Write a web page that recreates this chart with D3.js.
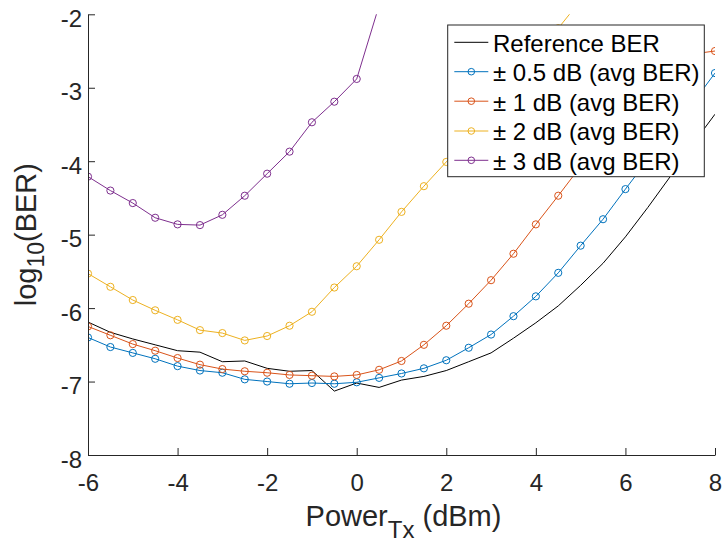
<!DOCTYPE html>
<html>
<head>
<meta charset="utf-8">
<script src="https://cdn.jsdelivr.net/npm/d3@7"></script>
<style>
  html, body { margin: 0; padding: 0; background: #fff; }
  svg { display: block; font-family: "Liberation Sans", Arial, Helvetica, sans-serif; }
</style>
</head>
<body>
<svg id="chart" width="723" height="542"></svg>
<script>
// ---------- data ----------
const powerTx = [-6,-5.5,-5,-4.5,-4,-3.5,-3,-2.5,-2,-1.5,-1,-0.5,0,0.5,1,1.5,2,2.5,3,3.5,4,4.5,5,5.5,6,6.5,7,7.5,8];

const refBER = [-6.19,-6.33,-6.42,-6.50,-6.58,-6.60,-6.73,-6.72,-6.82,-6.86,-6.85,-7.13,-7.02,-7.08,-6.98,-6.93,-6.85,-6.73,-6.61,-6.41,-6.20,-5.97,-5.69,-5.39,-5.03,-4.63,-4.21,-3.77,-3.36];
const ber05 = [-6.40,-6.53,-6.61,-6.69,-6.79,-6.85,-6.88,-6.97,-7.00,-7.03,-7.02,-7.03,-7.01,-6.95,-6.89,-6.82,-6.71,-6.54,-6.36,-6.11,-5.84,-5.52,-5.15,-4.79,-4.38,-3.98,-3.59,-3.21,-2.80];
const ber1 = [-6.25,-6.37,-6.49,-6.58,-6.68,-6.77,-6.83,-6.86,-6.88,-6.91,-6.92,-6.93,-6.91,-6.84,-6.72,-6.50,-6.24,-5.94,-5.62,-5.26,-4.86,-4.47,-4.07,-3.67,-3.28,-2.92,-2.66,-2.54,-2.50];
const ber2 = [-5.53,-5.71,-5.89,-6.03,-6.16,-6.30,-6.34,-6.44,-6.38,-6.24,-6.05,-5.72,-5.43,-5.07,-4.69,-4.34,-4.01,-3.66,-3.30,-2.93,-2.56,-2.19,-1.81];
const ber3 = [-4.21,-4.40,-4.57,-4.77,-4.86,-4.87,-4.73,-4.47,-4.17,-3.87,-3.47,-3.19,-2.88,-1.88];

const xTicks = [-6,-4,-2,0,2,4,6,8];
const yTicks = [-8,-7,-6,-5,-4,-3,-2];

const seriesNames = ["Reference BER", "\u00B1 0.5 dB (avg BER)", "\u00B1 1 dB (avg BER)", "\u00B1 2 dB (avg BER)", "\u00B1 3 dB (avg BER)"];
const seriesColors = ["#000000", "#0072BD", "#D95319", "#EDB120", "#7E2F8E"];
const seriesMarkers = [false, true, true, true, true];
const seriesValues = [refBER, ber05, ber1, ber2, ber3];

// ---------- layout ----------
const svg = d3.select("#chart");
const L = 88, R = 715, T = 14.3, B = 455;
const axisColor = "#262626";

const x = d3.scaleLinear().domain([-6, 8]).range([L, R]);
const y = d3.scaleLinear().domain([-8, -2]).range([B, T]);

svg.append("defs").append("clipPath").attr("id", "plotclip")
  .append("rect").attr("x", L).attr("y", T).attr("width", R - L).attr("height", B - T);

// ---------- series ----------
const plot = svg.append("g").attr("clip-path", "url(#plotclip)");
const line = d3.line().x(d => x(d[0])).y(d => y(d[1]));

seriesValues.forEach((vals, i) => {
  const pts = vals.map((v, j) => [powerTx[j], v]);
  plot.append("path")
    .datum(pts)
    .attr("d", line)
    .attr("fill", "none")
    .attr("stroke", seriesColors[i])
    .attr("stroke-width", 1)
    .attr("stroke-linejoin", "round");
  if (seriesMarkers[i]) {
    plot.append("g").selectAll("circle").data(pts).join("circle")
      .attr("cx", d => x(d[0]))
      .attr("cy", d => y(d[1]))
      .attr("r", 3.6)
      .attr("fill", "none")
      .attr("stroke", seriesColors[i])
      .attr("stroke-width", 1);
  }
});

// ---------- axes ----------
const fmt = d => String(d);

const xAxis = svg.append("g").attr("transform", `translate(0,${B})`)
  .call(d3.axisBottom(x).tickValues(xTicks).tickFormat(fmt).tickSizeInner(-7).tickSizeOuter(0).tickPadding(19));
xAxis.select(".domain").attr("stroke", axisColor).attr("stroke-width", 1);
xAxis.selectAll(".tick line").attr("stroke", axisColor);
xAxis.selectAll(".tick text").attr("fill", axisColor).attr("font-size", 24)
  .attr("font-family", "Liberation Sans, Arial, sans-serif");

const yAxis = svg.append("g").attr("transform", `translate(${L},0)`)
  .call(d3.axisLeft(y).tickValues(yTicks).tickFormat(fmt).tickSizeInner(-7).tickSizeOuter(0).tickPadding(6));
yAxis.select(".domain").attr("stroke", axisColor).attr("stroke-width", 1);
yAxis.selectAll(".tick line").attr("stroke", axisColor);
yAxis.selectAll(".tick text").attr("fill", axisColor).attr("font-size", 24).attr("dy", "0.5em")
  .attr("font-family", "Liberation Sans, Arial, sans-serif");

// x label
const xl = svg.append("text")
  .attr("x", (L + R) / 2 + 2).attr("y", 525.7)
  .attr("text-anchor", "middle").attr("fill", axisColor).attr("font-size", 29);
xl.append("tspan").text("Power");
xl.append("tspan").attr("font-size", 24).attr("dy", 12.6).text("Tx");
xl.append("tspan").attr("dy", -12.6).text(" (dBm)");

// y label
const yl = svg.append("text")
  .attr("transform", `translate(35.5,${(T + B) / 2}) rotate(-90)`)
  .attr("text-anchor", "middle").attr("fill", axisColor).attr("font-size", 29);
yl.append("tspan").text("log");
yl.append("tspan").attr("font-size", 23).attr("dy", 8).text("10");
yl.append("tspan").attr("dy", -8).text("(BER)");

// ---------- legend ----------
const lg = svg.append("g");
const lgX = 447.7, lgY = 25, lgW = 256.6, lgH = 151.7;
lg.append("rect").attr("x", lgX).attr("y", lgY).attr("width", lgW).attr("height", lgH)
  .attr("fill", "#fff").attr("stroke", axisColor).attr("stroke-width", 1);
const rowY = [42.3, 71.7, 101.2, 131, 160.3];
seriesNames.forEach((name, i) => {
  const g = lg.append("g");
  g.append("line").attr("x1", 454.3).attr("x2", 488.3).attr("y1", rowY[i]).attr("y2", rowY[i])
    .attr("stroke", seriesColors[i]).attr("stroke-width", 1);
  if (seriesMarkers[i]) {
    g.append("circle").attr("cx", 471.3).attr("cy", rowY[i]).attr("r", 3.3)
      .attr("fill", "none").attr("stroke", seriesColors[i]).attr("stroke-width", 1);
  }
  g.append("text").attr("x", 493).attr("y", rowY[i] + 9.4)
    .attr("font-size", 24).attr("fill", "#000").text(name);
});
</script>
</body>
</html>
